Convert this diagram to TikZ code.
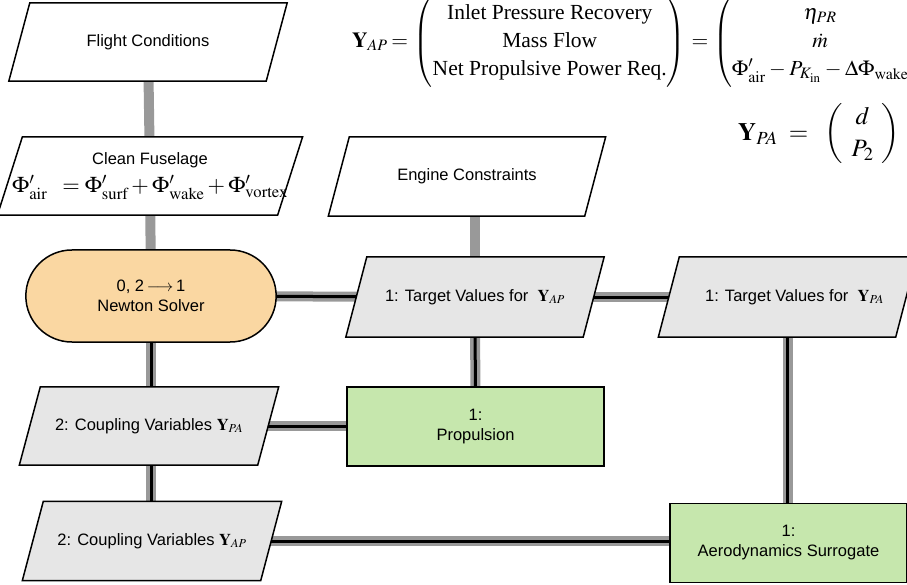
\documentclass[tikz,border=0pt]{standalone}
\usepackage{amsmath}
\usepackage{mathptmx}
\usepackage[no-math]{fontspec}
\setmainfont{Liberation Serif}
\setsansfont{Liberation Sans}
\usetikzlibrary{shapes.misc}
\definecolor{conngray}{RGB}{153,153,153}
\definecolor{datagray}{RGB}{230,230,230}
\definecolor{solverorange}{RGB}{250,215,162}
\definecolor{funcgreen}{RGB}{198,231,173}
\pgfdeclarelayer{edges}
\pgfdeclarelayer{boxes}
\pgfsetlayers{edges,boxes,main}
\tikzset{
  boxline/.style={draw=black, line width=1.5pt, line join=miter},
  paratext/.style={rectangle, inner sep=2pt, align=center},
  funcbox/.style={rectangle, boxline, fill=funcgreen, minimum height=79, align=center},
  solverbox/.style={rounded rectangle, boxline, fill=solverorange,
    minimum width=257, minimum height=92, align=center},
  dataline/.style={line width=10pt, draw=conngray},
  procline/.style={line width=3pt, draw=black, preaction={draw=conngray, line width=10pt}},
}
% draw a parallelogram behind a named node: name, fill, half slant
\newcommand\drawpara[3]{%
  \begin{pgfonlayer}{boxes}
  \draw[boxline, fill=#2] ([xshift=#3]#1.north west) -- ([xshift=#3]#1.north east)
    -- ([xshift=-#3]#1.south east) -- ([xshift=-#3]#1.south west) -- cycle;
  \end{pgfonlayer}}
\newcommand\releq{\mskip3mu{=}\mskip3mu}
\newcommand\tminus{\mskip3mu{-}\mskip3mu}
\begin{document}
\begin{tikzpicture}[x=1pt, y=-1pt, font=\sffamily\fontsize{16.5}{20}\selectfont]
\useasboundingbox (0,0) rectangle (907,585);
% boxes
\node[paratext, minimum width=257, minimum height=78] (fc) at (148,42) {Flight Conditions};
\drawpara{fc}{white}{10.5pt}
\node[paratext, minimum width=266, minimum height=78] (cf) at (150,176)
  {Clean Fuselage\\[6pt] {\fontsize{22.5}{24}\selectfont$\Phi'_{\mathrm{air}}\;\;=\Phi'_{\mathrm{surf}}+\Phi'_{\mathrm{wake}}+\Phi'_{\mathrm{vortex}}$}};
\drawpara{cf}{white}{12.5pt}
\node[paratext, minimum width=256, minimum height=79] (ec) at (467,176.5) {Engine Constraints};
\drawpara{ec}{white}{10.5pt}
\node[solverbox] (ns) at (151,296) {0, 2\,$\longrightarrow$\,1\\Newton Solver};
\node[paratext, minimum width=237, minimum height=80] (tap) at (475,297) {1: Target Values for~ $\mathbf{Y}_{AP}$};
\drawpara{tap}{datagray}{10.5pt}
\node[paratext, minimum width=237, minimum height=80] (tpa) at (787.5,297) {\hspace*{14pt}1: Target Values for~ $\mathbf{Y}_{PA}$};
\drawpara{tpa}{datagray}{10.5pt}
\node[paratext, minimum width=238, minimum height=78] (cpa) at (149,426) {2: Coupling Variables $\mathbf{Y}_{PA}$};
\drawpara{cpa}{datagray}{10.5pt}
\node[funcbox, minimum width=257] (prop) at (475.5,426.5) {1:\\Propulsion};
\node[paratext, minimum width=238, minimum height=79] (cap) at (152,541) {2: Coupling Variables $\mathbf{Y}_{AP}$};
\drawpara{cap}{datagray}{10.5pt}
\node[funcbox, minimum width=237] (aero) at (788.5,543) {1:\\Aerodynamics Surrogate};
% equations
\node[anchor=west, inner sep=0pt, font=\fontsize{21.5}{28}\selectfont] (eqap) at (352,42)
 {\setlength{\arraycolsep}{1pt}$\mathbf{Y}_{AP}\releq\begin{pmatrix}\text{Inlet Pressure Recovery}\\ \text{Mass Flow}\\ \text{Net Propulsive Power Req.}\end{pmatrix}\mskip3mu{=}\mskip2mu\begin{pmatrix}\eta_{PR}\\ \dot{m}\\ \Phi'_{\mathrm{air}}\tminus P_{K_{\mathrm{in}}}\tminus\Delta\Phi_{\mathrm{wake}}\end{pmatrix}$};
\node[anchor=west, inner sep=0pt, font=\fontsize{25}{32}\selectfont] (eqpa) at (738,134)
 {$\mathbf{Y}_{PA} \;=\;\; \begin{pmatrix}\;\,d\;\,\\ \;\,P_2\;\,\end{pmatrix}$};
% connectors
\begin{pgfonlayer}{edges}
\draw[dataline] (fc.center) -- (cf.center);
\draw[dataline] (cf.center) -- (ns.center);
\draw[dataline] (ec.center -| tap.center) -- (tap.center);
\draw[procline] (ns.center) -- (tap.center);
\draw[procline] (tap.center) -- (tpa.center);
\draw[procline] (tap.center) -- (prop.center);
\draw[procline] (tpa.center) -- (tpa.center |- aero.center);
\draw[procline] (ns.center) -- (ns.center |- cpa.center);
\draw[procline] (cpa.center) -- (cpa.center -| prop.center);
\draw[procline] (ns.center |- cpa.center) -- (ns.center |- cap.center);
\draw[procline] (cap.center) -- (cap.center -| aero.center);
\end{pgfonlayer}
\end{tikzpicture}
\end{document}
